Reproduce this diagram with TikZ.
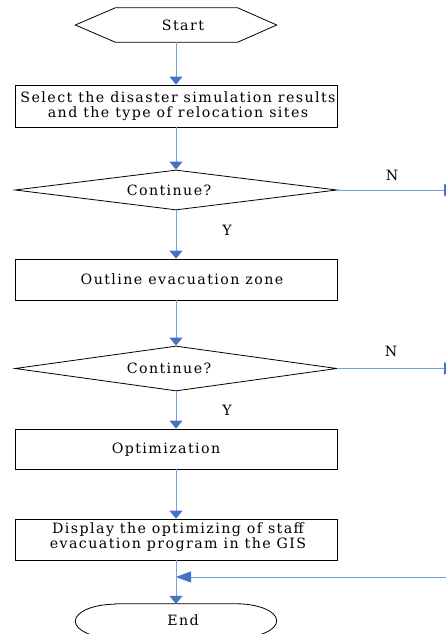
\documentclass[tikz,border=0pt]{standalone}
\usepackage{fontspec}
\setmainfont{DejaVu Serif}[LetterSpace=10]
\usetikzlibrary{arrows.meta,shapes.geometric,shapes.misc,calc}
\definecolor{lineblue}{RGB}{120,160,220}
\definecolor{tipblue}{RGB}{68,114,196}
\begin{document}
\begin{tikzpicture}[x=1pt,y=-1pt,
  every node/.style={font=\fontsize{14.2}{15.5}\selectfont},
  procbox/.style={draw=black,line width=0.8pt,rectangle,minimum width=322pt,inner sep=0pt},
  decision/.style={draw=black,line width=0.8pt,diamond,aspect=8,minimum width=322pt,inner sep=0pt},
  txt/.style={inner sep=0pt,align=center},
  flow/.style={draw=lineblue,line width=1pt,-{Triangle[width=13pt,length=8pt,fill=tipblue,color=tipblue]}},
  lbl/.style={inner sep=0pt}]
\clip (0,0) rectangle (446,634);
\fill[white] (0,0) rectangle (446,634);
% Start hexagon
\node (start) at (176,25) [minimum width=201pt,minimum height=34pt,inner sep=0pt] {};
\draw[line width=0.8pt] (start.west) -- ($(start.north west)+(40,0)$) -- ($(start.north east)+(-39,0)$) -- (start.east) -- ($(start.south east)+(-39,0)$) -- ($(start.south west)+(40,0)$) -- cycle;
\node[txt] (tstart) at (183,25) {Start};
\node[procbox,minimum height=42pt] (sel) at (176,106) {};
\node[txt] (tsel) at (178,106) {Select the disaster simulation results\\and the type of relocation sites};
\node[decision,minimum height=40pt] (c1) at (176,190) {};
\node[txt] (tc1) at (169,190) {Continue?};
\node[procbox,minimum height=41pt] (zone) at (176,279.5) {};
\node[txt] (tzone) at (182,279.5) {Outline evacuation zone};
\node[decision,minimum height=45pt] (c2) at (176,368.5) {};
\node[txt] (tc2) at (169,368.5) {Continue?};
\node[procbox,minimum height=40pt] (opt) at (176,449) {};
\node[txt] (topt) at (166,450) {Optimization};
\node[procbox,minimum height=41pt] (disp) at (176,539.5) {};
\node[txt] (tdisp) at (178,537) {Display the optimizing of staff\\evacuation program in the GIS};
\node[minimum width=201pt,minimum height=34pt,inner sep=0pt] (end) at (176,621) {};
\draw[line width=0.8pt] ($(end.north west)+(40,0)$) -- ($(end.north east)+(-40,0)$) arc[start angle=-90,end angle=90,x radius=40,y radius=17] -- ($(end.south west)+(40,0)$) arc[start angle=90,end angle=270,x radius=40,y radius=17] -- cycle;
\node[txt] (tend) at (183,620) {End};
% coordinates
\coordinate (n1) at (452,190);
\coordinate (n2) at (452,368.5);
\coordinate (back) at (446,577);
\coordinate (join) at (176,577);
% connectors
\draw[flow] (start.south) -- (sel.north);
\draw[flow] (sel.south) -- (c1.north);
\draw[flow] (c1.south) -- (zone.north);
\draw[flow] (zone.south) -- (c2.north);
\draw[flow] (c2.south) -- (opt.north);
\draw[flow] (opt.south) -- (disp.north);
\draw[flow] (disp.south) -- (end.north);
\draw[flow] (c1.east) -- (n1);
\draw[flow] (c2.east) -- (n2);
\draw[draw=lineblue,line width=1pt,-{Triangle[width=11pt,length=15pt,fill=tipblue,color=tipblue]}] (back) -- (join);
% labels
\node[lbl] (ln1) at (392,175) {N};
\node[lbl] (ly1) at (227,230) {Y};
\node[lbl] (ln2) at (391,351) {N};
\node[lbl] (ly2) at (227,410) {Y};
\end{tikzpicture}
\end{document}
